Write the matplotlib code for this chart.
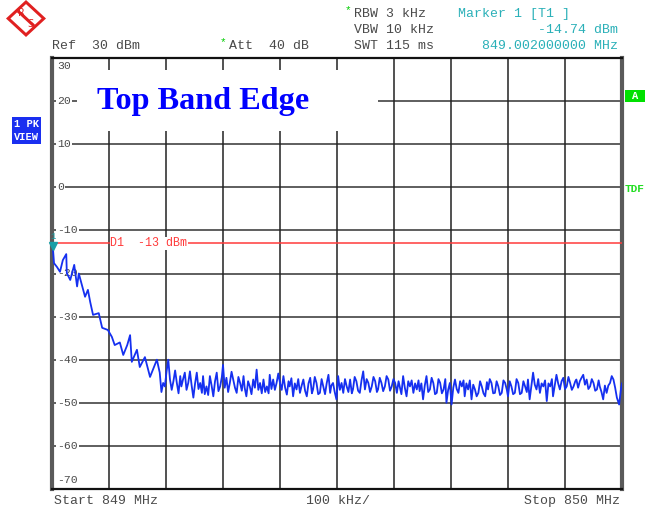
import numpy as np
import matplotlib.pyplot as plt
import matplotlib.patches as mpatches
import matplotlib.transforms as mtransforms

# spectrum trace, offset from the 849 MHz start [kHz] and level [dBm]
# roll-off part near the band edge
rolloff_khz = [1.8, 3.5, 8.8, 14, 19, 25, 26, 32, 39, 44, 47, 53, 58, 63, 67, 72, 82, 88, 98,
               105, 110, 119, 125, 132, 137, 140, 149, 154, 163, 172, 184]
rolloff_dbm = [-14.7, -17.6, -18.5, -19.6, -16.9, -15.5, -19.9, -21.5, -18.0, -23.0, -20.0,
               -23.0, -25.4, -23.8, -26.6, -29.6, -29.2, -32.6, -33.1, -34.7, -36.6, -36.0,
               -38.9, -36.6, -34.3, -40.5, -37.7, -41.7, -39.4, -44.0, -40.0]
# noise floor part
floor_khz = [189, 192, 195, 198, 201, 204, 207, 210, 213, 216, 219, 222, 225, 227, 230, 233,
             236, 239, 242, 245, 248, 251, 254, 257, 260, 263, 265, 268, 271, 274, 277, 280,
             283, 286, 289, 292, 295, 298, 300, 303, 306, 309, 312, 315, 318, 321, 324, 327,
             330, 333, 336, 338, 341, 344, 347, 350, 353, 356, 359, 362, 365, 368, 371, 374,
             377, 380, 382, 385, 388, 391, 394, 397, 400, 403, 406, 409, 412, 415, 417, 420,
             423, 426, 429, 432, 435, 438, 441, 444, 447, 450, 453, 456, 458, 461, 464, 467,
             470, 473, 476, 479, 482, 485, 488, 490, 493, 496, 499, 502, 505, 508, 511, 514,
             517, 520, 523, 526, 528, 531, 534, 537, 540, 543, 546, 549, 552, 555, 558, 561,
             564, 567, 570, 572, 575, 578, 581, 584, 587, 590, 593, 596, 599, 602, 605, 608,
             610, 613, 616, 619, 622, 625, 628, 631, 634, 637, 640, 643, 645, 648, 651, 654,
             657, 660, 663, 666, 669, 672, 675, 678, 681, 684, 687, 690, 692, 695, 698, 701,
             704, 707, 710, 713, 716, 719, 722, 724, 727, 730, 733, 736, 739, 742, 745, 748,
             751, 754, 757, 760, 763, 765, 768, 771, 774, 777, 780, 783, 786, 789, 792, 795,
             798, 800, 803, 806, 809, 812, 815, 818, 821, 824, 827, 830, 833, 835, 838, 841,
             844, 847, 850, 853, 856, 859, 862, 865, 868, 871, 874, 877, 879, 882, 885, 888,
             891, 894, 897, 900, 903, 906, 909, 912, 915, 918, 920, 923, 926, 929, 932, 935,
             938, 941, 944, 947, 950, 953, 956, 959, 961, 964, 967, 970, 973, 976, 979, 982,
             985, 988, 991, 995, 998, 1000]
floor_dbm = [-43.0, -47.5, -45.4, -46.2, -42.7, -40.0, -44.6, -47.0, -45.0, -42.5, -45.4, -47.8,
             -43.8, -46.2, -44.5, -43.0, -47.0, -45.4, -42.7, -46.0, -48.8, -45.5, -43.0, -46.8,
             -45.4, -47.7, -43.8, -48.0, -46.2, -48.2, -43.8, -46.0, -48.5, -45.0, -43.0, -47.3,
             -46.2, -44.0, -41.2, -46.5, -44.2, -47.5, -45.4, -42.8, -44.6, -46.5, -47.7, -44.0,
             -45.4, -47.2, -43.8, -46.5, -48.5, -45.0, -46.2, -48.0, -44.6, -46.5, -42.3, -47.0,
             -45.4, -47.8, -44.6, -47.5, -46.2, -47.8, -43.5, -46.8, -44.6, -47.0, -45.4, -43.2,
             -45.4, -47.0, -43.8, -46.5, -48.1, -45.0, -46.2, -44.3, -48.5, -45.5, -46.9, -44.5,
             -47.7, -46.0, -44.6, -47.2, -48.5, -45.5, -44.2, -47.8, -46.9, -44.0, -45.4, -48.0,
             -47.7, -44.5, -46.2, -48.0, -45.4, -43.5, -47.7, -46.0, -45.4, -47.5, -49.2, -43.8,
             -47.0, -45.4, -47.7, -44.5, -46.2, -47.5, -44.6, -47.8, -46.9, -44.0, -45.0, -47.2,
             -47.7, -44.8, -42.7, -46.9, -44.5, -45.4, -47.5, -46.2, -44.0, -45.0, -47.5, -46.9,
             -44.2, -45.4, -47.3, -46.2, -43.8, -44.6, -47.2, -46.2, -44.5, -45.4, -47.7, -45.0,
             -46.2, -48.0, -43.8, -46.5, -48.5, -45.0, -46.2, -44.8, -47.7, -45.5, -46.9, -44.8,
             -47.3, -45.5, -49.2, -46.0, -43.8, -47.5, -46.9, -44.2, -45.4, -48.0, -47.7, -44.5,
             -45.4, -47.8, -46.9, -44.5, -50.0, -47.0, -45.4, -50.4, -46.5, -44.6, -46.8, -47.7,
             -45.0, -46.2, -44.8, -48.5, -45.5, -46.9, -44.8, -49.2, -45.8, -46.9, -48.5, -47.7,
             -45.0, -46.2, -47.8, -48.5, -45.2, -46.9, -44.5, -45.4, -47.8, -47.7, -45.0, -46.2,
             -48.2, -47.7, -44.8, -45.4, -47.0, -48.5, -45.0, -46.2, -48.0, -47.7, -44.5, -45.4,
             -48.0, -47.7, -45.0, -46.2, -47.5, -44.6, -49.2, -46.0, -43.0, -45.8, -46.9, -44.5,
             -47.7, -45.5, -46.2, -44.8, -49.6, -45.5, -46.2, -44.5, -48.5, -46.0, -43.5, -45.5,
             -46.9, -45.0, -44.2, -46.8, -46.2, -44.0, -45.4, -47.0, -46.2, -45.0, -44.6, -46.5,
             -45.0, -44.2, -43.5, -45.8, -44.6, -46.8, -46.2, -44.5, -45.4, -47.2, -46.9, -44.8,
             -46.2, -47.5, -49.2, -46.0, -47.7, -46.0, -45.4, -43.8, -44.6, -46.5, -48.8, -50.4,
             -47.0, -45.5]

y_ticks = [30, 20, 10, 0, -10, -20, -30, -40, -50, -60, -70]
display_line_dbm = -13
marker_khz = 2
marker_dbm = -14.74

W, H = 647, 514
mono = "Liberation Mono"
grey_txt = "#4a4a4a"
teal = "#2ab0b8"
hdr_size = 9.5


def fx(x):
    return x / W


def fy(y):
    return 1 - y / H


fig = plt.figure(figsize=(W / 100, H / 100), dpi=100)
ax = fig.add_axes([fx(52), fy(489), 570 / W, 431 / H])
ax.set_xlim(0, 1000)
ax.set_ylim(-70, 30)
ax.set_xticks([])
ax.set_yticks([])
for side in ["left", "right"]:
    ax.spines[side].set_linewidth(3)
    ax.spines[side].set_color("#5a5a5a")
for side in ["top", "bottom"]:
    ax.spines[side].set_linewidth(1.6)
    ax.spines[side].set_color("#111111")

# graticule
for v in y_ticks[1:-1]:
    ax.axhline(v, color="#333333", lw=1.1, zorder=1)
for k in range(100, 1000, 100):
    ax.axvline(k, color="#222222", lw=1.1, zorder=1)

# white box behind the title
ax.add_patch(mpatches.Rectangle((44, 13.1), 528, 14.1, facecolor="white",
                                edgecolor="none", zorder=2))
ax.text(79, 20, "Top Band Edge", color="#0000ff", fontsize=23.2, fontweight="bold",
        family="Liberation Serif", va="center", ha="left", zorder=3)

# y labels inside the frame
lab_tr = mtransforms.blended_transform_factory(ax.transAxes, ax.transData)
for v in y_ticks:
    va, yy = "center", v
    if v == 30:
        va, yy = "top", v - 0.6
    elif v == -70:
        va, yy = "bottom", v + 1.0
    ax.text(0.009, yy, str(v), transform=lab_tr, fontsize=8.2, family=mono, color=grey_txt,
            va=va, ha="left", zorder=4,
            bbox=dict(facecolor="white", edgecolor="none", pad=0.6))

# display line
ax.axhline(display_line_dbm, color="#ff3b3b", lw=1.1, zorder=3)
ax.text(102, display_line_dbm, f"D1  {display_line_dbm} dBm", color="#ff3b3b",
        fontsize=8.4, family=mono, va="center", ha="left", zorder=4,
        bbox=dict(facecolor="white", edgecolor="none", pad=0.3))

# trace
ax.plot(rolloff_khz + floor_khz, rolloff_dbm + floor_dbm, color="#1530f0", lw=1.3, zorder=5)

# marker
mk_tr = mtransforms.offset_copy(ax.transData, fig=fig, y=3.5, units="points")
ax.plot([marker_khz], [marker_dbm], marker="v", color="#1a9ea6", ms=6, transform=mk_tr,
        zorder=6, clip_on=False)
ax.text(marker_khz, marker_dbm, "1",
        transform=mtransforms.offset_copy(ax.transData, fig=fig, y=7, units="points"),
        color="#1a9ea6", fontsize=6.5, family=mono, ha="center", va="bottom", zorder=7,
        clip_on=False)

# header texts
fig.text(fx(52), fy(46), "Ref  30 dBm", family=mono, fontsize=hdr_size, color=grey_txt,
         va="center")
fig.text(fx(220), fy(42), "*", family=mono, fontsize=8, color="#00cc00", va="center")
fig.text(fx(229), fy(46), "Att  40 dB", family=mono, fontsize=hdr_size, color=grey_txt,
         va="center")
fig.text(fx(345), fy(10), "*", family=mono, fontsize=8, color="#00cc00", va="center")
fig.text(fx(354), fy(14), "RBW 3 kHz", family=mono, fontsize=hdr_size, color=grey_txt,
         va="center")
fig.text(fx(354), fy(30), "VBW 10 kHz", family=mono, fontsize=hdr_size, color=grey_txt,
         va="center")
fig.text(fx(354), fy(46), "SWT 115 ms", family=mono, fontsize=hdr_size, color=grey_txt,
         va="center")
fig.text(fx(458), fy(14), "Marker 1 [T1 ]", family=mono, fontsize=hdr_size, color=teal,
         va="center")
fig.text(fx(618), fy(30), f"{marker_dbm:.2f} dBm", family=mono, fontsize=hdr_size, color=teal,
         va="center", ha="right")
fig.text(fx(618), fy(46), "849.002000000 MHz", family=mono, fontsize=hdr_size, color=teal,
         va="center", ha="right")

# footer texts
fig.text(fx(54), fy(501), "Start 849 MHz", family=mono, fontsize=hdr_size, color=grey_txt,
         va="center")
fig.text(fx(338), fy(501), "100 kHz/", family=mono, fontsize=hdr_size, color=grey_txt,
         va="center", ha="center")
fig.text(fx(620), fy(501), "Stop 850 MHz", family=mono, fontsize=hdr_size, color=grey_txt,
         va="center", ha="right")

# side labels
for y, s in [(124, "1 PK"), (137, "VIEW")]:
    fig.text(fx(14), fy(y), s, family=mono, fontsize=7.5, fontweight="bold", color="white",
             va="center", ha="left",
             bbox=dict(facecolor="#1a2ff0", edgecolor="none", pad=1.2))
fig.patches.append(mpatches.Rectangle((fx(625), fy(102)), 20 / W, 12 / H, facecolor="#00e000",
                                      edgecolor="none", transform=fig.transFigure, figure=fig))
fig.text(fx(635), fy(96), "A", family=mono, fontsize=7.5, fontweight="bold",
         color="white", va="center", ha="center")
fig.text(fx(625), fy(189), "TDF", family=mono, fontsize=8, fontweight="bold",
         color="#22dd22", va="center", ha="left")

# R&S logo
logo_ax = fig.add_axes([fx(6), fy(37), 40 / W, 37 / H])
logo_ax.set_xlim(-1, 1)
logo_ax.set_ylim(-1, 1)
logo_ax.axis("off")
logo_ax.add_patch(mpatches.Polygon([[0, 1], [1, 0], [0, -1], [-1, 0]], closed=True,
                                   facecolor="#e02020", edgecolor="none"))
logo_ax.add_patch(mpatches.Polygon([[0, 0.78], [0.78, 0], [0, -0.78], [-0.78, 0]], closed=True,
                                   facecolor="white", edgecolor="none"))
logo_ax.plot([-0.35, 0.35], [0.35, -0.35], color="#e02020", lw=2.2)
logo_ax.text(-0.22, 0.3, "R", color="#e02020", fontsize=7, ha="center", va="center",
             family="DejaVu Sans")
logo_ax.text(0.22, -0.3, "S", color="#e02020", fontsize=7, ha="center", va="center",
             family="DejaVu Sans")

fig.savefig("out.png", dpi=100)
